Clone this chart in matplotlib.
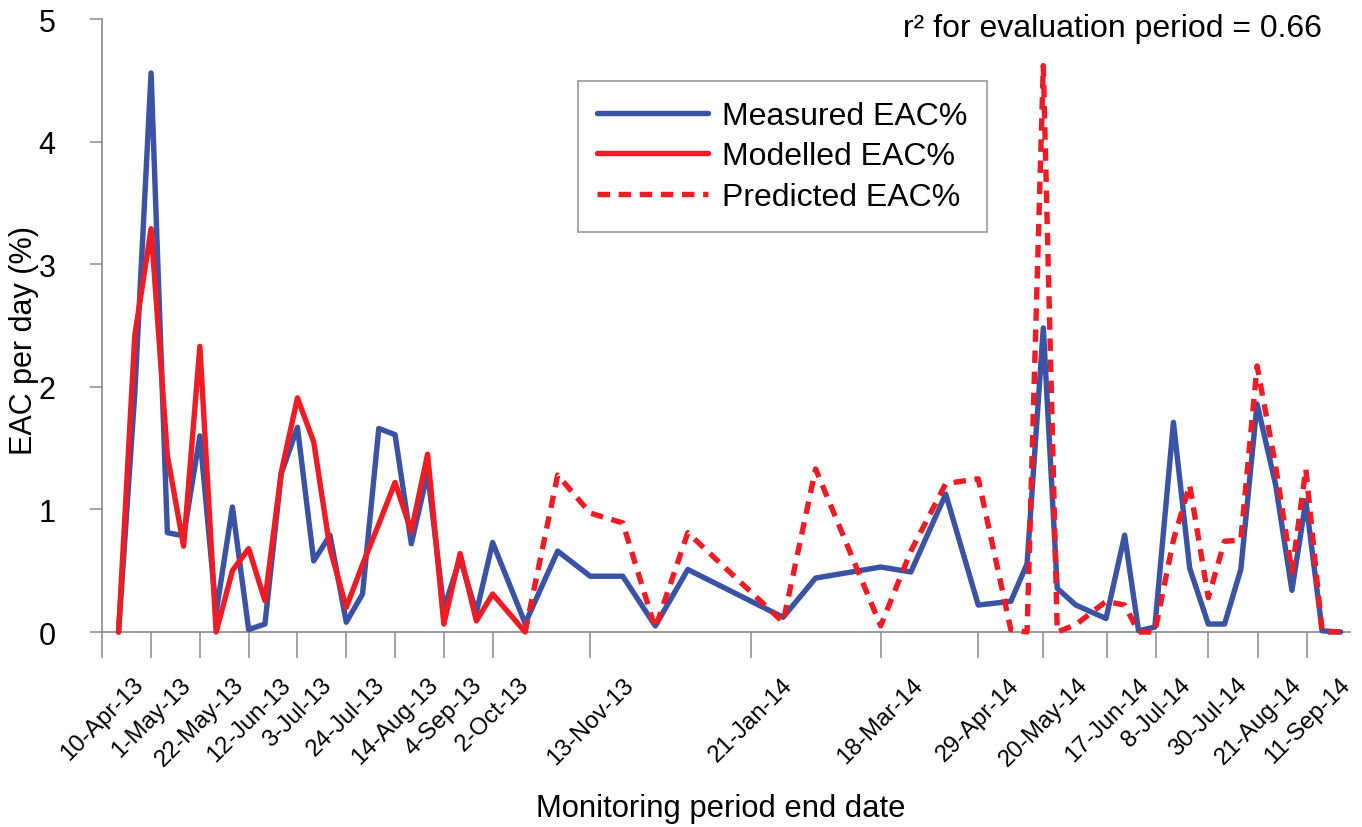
import matplotlib
matplotlib.use("Agg")
import matplotlib.pyplot as plt

plt.rcParams['font.family'] = ['Liberation Sans', 'DejaVu Sans']

# x values: days since 10-Apr-2013 (position on the monitoring-period axis)
measured_day = [7, 14, 21, 28, 35, 42, 49, 56, 63, 70, 77, 84, 91, 98, 105, 112, 119, 126, 133, 140,
                147, 154, 161, 168, 182, 196, 210, 224, 238, 252, 293, 307, 321, 335, 348, 363, 377, 391, 398, 405,
                411, 419, 432, 440, 446, 453, 461, 468, 476, 483, 490, 497, 505, 512, 518, 525, 533]
measured_eac = [0, 1.95, 4.56, 0.81, 0.785, 1.60, 0.16, 1.02, 0.02, 0.065, 1.29, 1.67, 0.58, 0.79, 0.08, 0.31, 1.66, 1.61, 0.72, 1.30,
                0.19, 0.60, 0.16, 0.73, 0.07, 0.66, 0.455, 0.455, 0.05, 0.51, 0.12, 0.44, 0.485, 0.53, 0.49, 1.125, 0.22, 0.25, 0.555, 2.48,
                0.356, 0.22, 0.11, 0.79, 0.01, 0.04, 1.71, 0.52, 0.065, 0.065, 0.51, 1.86, 1.2, 0.34, 1.07, 0.01, 0.0]

modelled_day = [7, 14, 21, 28, 35, 42, 49, 56, 63, 70, 77, 84, 91, 98, 105, 112, 119, 126, 133, 140,
                147, 154, 161, 168, 182]
modelled_eac = [0, 2.42, 3.29, 1.44, 0.70, 2.33, 0.0, 0.50, 0.68, 0.255, 1.30, 1.91, 1.55, 0.68, 0.20, 0.55, 0.88, 1.22, 0.82, 1.45,
                0.065, 0.64, 0.09, 0.31, 0.0]

predicted_day = [182, 196, 210, 224, 238, 252, 293, 307, 335, 348, 363, 377, 391, 398, 405, 411, 419, 432, 440, 446,
                 453, 461, 468, 476, 483, 490, 497, 505, 512, 518, 525, 533]
predicted_eac = [0.0, 1.28, 0.97, 0.89, 0.03, 0.81, 0.08, 1.33, 0.05, 0.66, 1.21, 1.25, 0.02, 0.0, 4.62, 0.0, 0.06, 0.25, 0.22, 0.0,
                 0.0, 0.75, 1.2, 0.28, 0.74, 0.75, 2.17, 1.35, 0.49, 1.33, 0.0, 0.0]

tick_day = [0, 21, 42, 63, 84, 105, 126, 147, 168, 210, 279, 335, 377, 405, 432.5, 453.5, 476, 497.5, 518.5]
tick_labels = ['10-Apr-13', '1-May-13', '22-May-13', '12-Jun-13', '3-Jul-13', '24-Jul-13', '14-Aug-13',
               '4-Sep-13', '2-Oct-13', '13-Nov-13', '21-Jan-14', '18-Mar-14', '29-Apr-14', '20-May-14',
               '17-Jun-14', '8-Jul-14', '30-Jul-14', '21-Aug-14', '11-Sep-14']
y_ticks = [0, 1, 2, 3, 4, 5]

BLUE = '#3a53a4'
RED = '#ee1c25'
GREY = '#8a8a8a'

fig = plt.figure(figsize=(13.62, 8.28), dpi=100)
ax = fig.add_axes([0.0751, 0.2355, 0.9161, 0.7403])

lw = 3.9
ax.plot(measured_day, measured_eac, color=BLUE, lw=lw, label='Measured EAC%', clip_on=False,
        solid_joinstyle='round', solid_capstyle='round', zorder=3)
ax.plot(modelled_day, modelled_eac, color=RED, lw=lw, label='Modelled EAC%', clip_on=False,
        solid_joinstyle='round', solid_capstyle='round', zorder=4)
ax.plot(predicted_day, predicted_eac, color=RED, lw=lw, ls=(0, (2.3, 1.6)), label='Predicted EAC%',
        clip_on=False, dash_joinstyle='round', zorder=5)

ax.set_xlim(0, 537)
ax.set_ylim(0, 5)
ax.set_xticks(tick_day)
ax.set_xticklabels(tick_labels, rotation=45, ha='center')
ax.set_yticks(y_ticks)
ax.set_yticklabels([str(v) for v in y_ticks])

for s in ['top', 'right']:
    ax.spines[s].set_visible(False)
for s in ['left', 'bottom']:
    ax.spines[s].set_color(GREY)
    ax.spines[s].set_linewidth(1.2)

ax.tick_params(axis='x', direction='out', length=18.7, width=1.1, color=GREY, pad=11, labelsize=17.3)
ax.tick_params(axis='y', direction='out', length=8.6, width=1.1, color=GREY, pad=25, labelsize=22)

ax.set_ylabel('EAC per day (%)', fontsize=22)
ax.yaxis.set_label_coords(-0.051, 0.478)
ax.set_xlabel('Monitoring period end date', fontsize=22.3)
ax.xaxis.set_label_coords(0.496, -0.262)

ax.text(0.9776, 0.985, 'r² for evaluation period = 0.66', transform=ax.transAxes,
        ha='right', va='center', fontsize=23)

leg = ax.legend(loc='upper left', bbox_to_anchor=(0.381, 0.899), fontsize=23, frameon=True,
                fancybox=False, edgecolor=GREY, handlelength=3.45, handletextpad=0.45,
                labelspacing=0.33, borderpad=0.62, borderaxespad=0)
leg.get_frame().set_linewidth(1.3)

fig.savefig('out.png', dpi=100)
